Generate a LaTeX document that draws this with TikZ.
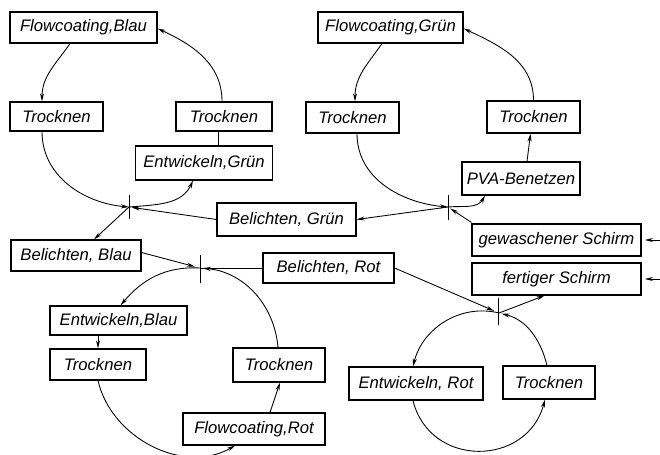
\documentclass[tikz,border=0pt]{standalone}
\usepackage{fontspec}
\setmainfont{Liberation Sans}
\usetikzlibrary{arrows.meta,calc}
\begin{document}
\begin{tikzpicture}[x=0.75pt,y=0.75pt,
  bx/.style 2 args={draw, line width=0.9pt, inner sep=0pt,
    minimum width=#1*0.75pt, minimum height=#2*0.75pt,
    font=\fontsize{12.5}{14}\selectfont\itshape},
  flow/.style={line width=0.65pt, -{Stealth[length=6pt,width=3pt]}},
  plain/.style={line width=0.65pt},
  tick/.style={line width=0.65pt}]
\useasboundingbox (0,0) rectangle (660,-454);

% boxes
\node[bx={147}{31}] (fb)  at (83.5,-27.5)  {Flowcoating,Blau};
\node[bx={93}{29}]  (t1)  at (56.5,-116.5) {Trocknen};
\node[bx={96}{29}]  (t2)  at (224,-116.5)  {Trocknen};
\node[bx={137}{34}] (eg)  at (204,-163)    {Entwickeln,Grün};
\node[bx={145}{31}] (fg)  at (390.5,-27.5) {Flowcoating,Grün};
\node[bx={93}{31}]  (t3)  at (352.5,-117.5){Trocknen};
\node[bx={93}{32}]  (t4)  at (533.5,-117)  {Trocknen};
\node[bx={118}{33}] (pva) at (521,-178.5)  {PVA-Benetzen};
\node[bx={139}{33}] (bg)  at (286.5,-219.5){Belichten, Grün};
\node[bx={169}{32}] (gs)  at (556.5,-240)  {gewaschener Schirm};
\node[bx={169}{32}] (fs)  at (556.5,-279)  {fertiger Schirm};
\node[bx={130}{31}] (bb)  at (76,-255.5)   {Belichten, Blau};
\node[bx={131}{30}] (br)  at (328.5,-268)  {Belichten, Rot};
\node[bx={137}{29}] (eb)  at (118.5,-320.5){Entwickeln,Blau};
\node[bx={96}{31}]  (t5)  at (98,-364.5)   {Trocknen};
\node[bx={92}{34}]  (t6)  at (279,-365)    {Trocknen};
\node[bx={142}{32}] (fr)  at (254,-429)    {Flowcoating,Rot};
\node[bx={134}{33}] (er)  at (416,-383.5)  {Entwickeln, Rot};
\node[bx={92}{33}]  (t7)  at (549,-382.5)  {Trocknen};

% junctions
\coordinate (j1) at (129,-207);
\coordinate (j2) at (448,-207);
\coordinate (j3) at (200,-268);
\coordinate (j4) at (499,-313);
\coordinate (ing) at (660,-240);
\coordinate (outf) at (660,-279);
\draw[tick] ($(j1)+(0,12)$) -- ($(j1)+(0,-12)$);
\draw[tick] ($(j2)+(0,12)$) -- ($(j2)+(0,-13)$);
\draw[tick] ($(j3)+(0,13)$) -- ($(j3)+(0,-15)$);
\draw[tick] ($(j4)+(-1,15)$) -- ($(j4)+(-1,-12)$);

% cycle 1
\draw[flow] ($(fb.south)+(-13.5,0)$) to[out=235,in=90] ($(t1.north)+(-14.5,0)$);
\draw[flow] ($(t2.north)+(-2,0)$) to[out=90,in=-25] ($(fb.east)+(0,-1)$);
\draw[flow] ($(t1.south)+(-14.5,0)$) to[out=-90,in=175] (j1);
\draw[flow] (j1) to[out=5,in=-115] ($(eg.south)+(-11,0)$);
\draw[plain] ($(eg.north)+(14,0)$) -- ($(t2.south)+(-6,0)$);
\draw[flow,shorten >=2pt] (bg.west) -- (j1);
\draw[flow] (j1) -- ($(bb.north)+(18,0)$);

% cycle 2
\draw[flow] ($(fg.south)+(-8.5,0)$) to[out=235,in=90] ($(t3.north)+(2.5,0)$);
\draw[flow] (t4.north) to[out=90,in=-25] ($(fg.east)+(0,-1)$);
\draw[flow] ($(t3.south)+(4.5,0)$) to[out=-90,in=175] (j2);
\draw[flow] (j2) to[out=5,in=-120] ($(pva.south)+(-36,0)$);
\draw[flow] ($(pva.north)+(6,0)$) -- ($(t4.south)+(-3,0)$);
\draw[flow,shorten >=2pt] ($(gs.north west)+(0,1)$) -- (j2);
\draw[flow] (j2) -- (bg.east);

% cycle 3
\draw[flow,shorten >=4pt] ($(bb.east)+(0,3)$) -- (j3);
\draw[plain] (j3) -- (br.west);
\draw[flow,shorten >=2pt] ($(t6.north)+(-1,0)$) to[out=95,in=-5] (j3);
\draw[flow] (j3) to[out=177,in=50] ($(eb.north)+(2,0)$);
\draw[flow] ($(eb.south)+(-20.5,0)$) -- (t5.north);
\draw[flow] (t5.south) to[out=-77,in=210] ($(fr.south)+(-19,0)$);
\draw[flow] ($(fr.north)+(16,0)$) -- ($(t6.south)+(1,0)$);

% cycle 4
\draw[flow,shorten >=4pt] (br.east) -- (j4);
\draw[flow] (j4) -- ($(fs.south)+(-12,0)$);
\draw[flow] (j4) to[out=166,in=76] ($(er.north)+(-3,0)$);
\draw[flow,shorten >=2pt] ($(t7.north)+(-2,0)$) to[out=104,in=-14] (j4);
\draw[flow] ($(er.south)+(-3,0)$) to[out=-76,in=-105,looseness=1.35] ($(t7.south)+(-4,0)$);

% external
\draw[flow,shorten >=2.5pt] (ing) -- (gs.east);
\draw[flow,shorten >=2.5pt] (outf) -- (fs.east);
\end{tikzpicture}
\end{document}
